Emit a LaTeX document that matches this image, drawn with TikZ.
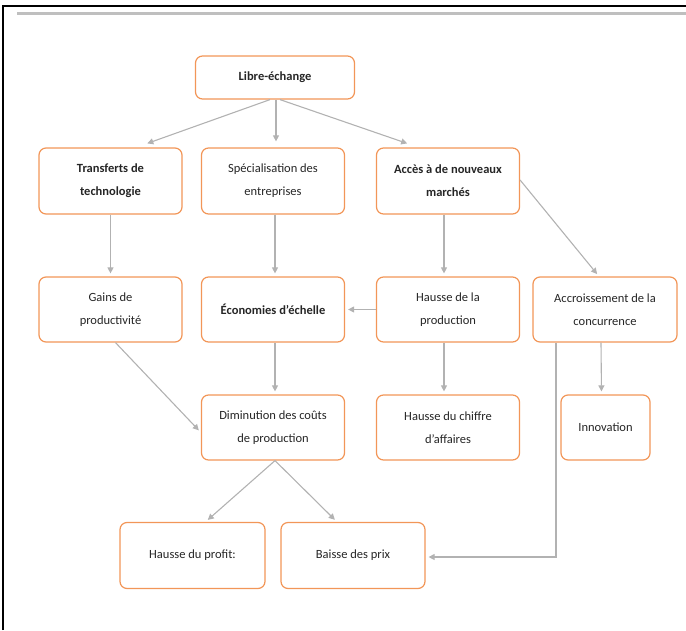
\documentclass[tikz,border=0pt]{standalone}
\usepackage{fontspec}
\setmainfont{Carlito}
\usetikzlibrary{arrows.meta}
\definecolor{bordorange}{RGB}{242,150,88}
\definecolor{flechegris}{RGB}{178,178,178}
\tikzset{
  boite/.style={draw=bordorange, line width=1.2pt, rounded corners=7pt, fill=white,
    minimum width=143pt, minimum height=66pt, align=center, text=black!85,
    font=\fontsize{12.5}{23}\selectfont},
  fleche/.style={->, draw=flechegris, line width=1.1pt, shorten >=3pt},
}
\begin{document}
\begin{tikzpicture}[x=1pt, y=-1pt, >={Triangle[length=6pt,width=6pt]}]
    \useasboundingbox (0,0) rectangle (686,630);
    \draw[line width=2.5pt] (3,630) -- (3,6) -- (686,6);
    \draw[line width=2.5pt, color=black!25] (17,13.5) -- (686,13.5);

    \node[boite, minimum width=159pt, minimum height=43pt] (libre) at (275,77.5) {\textbf{Libre-échange}};

    \node[boite] (transferts) at (110.5,181) {\textbf{Transferts de}\\\textbf{technologie}};
    \node[boite] (special) at (273,181) {Spécialisation des\\entreprises};
    \node[boite] (acces) at (448,181) {\textbf{Accès à de nouveaux}\\\textbf{marchés}};

    \node[boite, minimum height=65pt] (gains) at (110.5,309.5) {Gains de\\productivité};
    \node[boite, minimum height=65pt] (econ) at (273,309.5) {\textbf{Économies d’échelle}};
    \node[boite, minimum height=65pt] (hprod) at (448,309.5) {Hausse de la\\production};
    \node[boite, minimum height=65pt, minimum width=144pt] (accr) at (605,309.5) {Accroissement de la\\concurrence};

    \node[boite, minimum height=65pt] (dimin) at (273,427.5) {Diminution des coûts\\de production};
    \node[boite, minimum height=65pt] (chiffre) at (448,427.5) {Hausse du chiffre\\d’affaires};
    \node[boite, minimum height=65pt, minimum width=89pt] (innov) at (605.5,427.5) {Innovation};

    \node[boite, minimum width=145pt] (profit) at (192.5,555.5) {Hausse du profit:};
    \node[boite, minimum width=144pt] (prix) at (353,555.5) {Baisse des prix};

    \draw[fleche] ([xshift=-5pt]libre.south) -- ([xshift=34pt, yshift=3pt]transferts.north);
    \draw[fleche] ([xshift=1pt]libre.south) -- ([xshift=3pt, yshift=3pt]special.north);
    \draw[fleche] ([xshift=5pt]libre.south) -- ([xshift=-38pt, yshift=3pt]acces.north);

    \draw[fleche] (transferts) -- (gains);
    \draw[fleche] ([xshift=2pt]special.south) -- ([xshift=2pt]econ.north);
    \draw[fleche] ([xshift=-4pt]acces.south) -- ([xshift=-4pt]hprod.north);
    \draw[fleche] ([yshift=1pt]acces.east) -- ([xshift=-6pt]accr.north);

    \draw[fleche] (hprod.west) -- (econ.east);
    \draw[fleche] ([xshift=5pt]gains.south) -- ([yshift=-5pt]dimin.west);
    \draw[fleche] ([xshift=2pt]econ.south) -- ([xshift=2pt]dimin.north);
    \draw[fleche] ([xshift=-4pt]hprod.south) -- ([xshift=-4pt]chiffre.north);
    \draw[fleche] ([xshift=-4pt]accr.south) -- ([xshift=-4pt]innov.north);

    \draw[fleche] ([xshift=2pt]dimin.south) -- ([xshift=13pt]profit.north);
    \draw[fleche] ([xshift=2pt]dimin.south) -- ([xshift=-16pt]prix.north);
    \draw[fleche] ([xshift=-49pt]accr.south) |- ([yshift=-1.5pt]prix.east);
\end{tikzpicture}
\end{document}
